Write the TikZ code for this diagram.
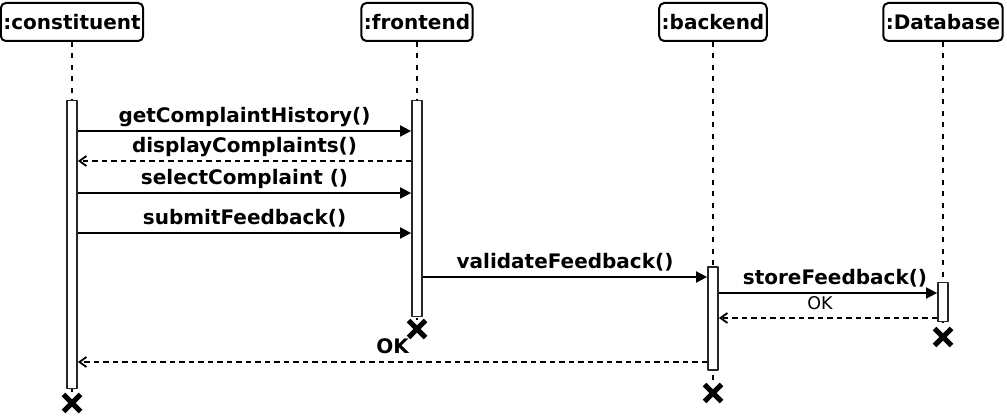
\documentclass[tikz,border=0pt]{standalone}
\usepackage{fontspec}
\setmainfont{DejaVu Sans}
\usetikzlibrary{arrows.meta,calc,shapes.misc}

\tikzset{
  head/.style={draw, line width=2pt, rounded corners=5pt, inner xsep=2.5pt,
    minimum height=38pt, font=\bfseries\fontsize{20}{24}\selectfont},
  lifeline/.style={line width=2pt, dash pattern=on 5pt off 6.5pt},
  actbar/.style={draw=black!85, line width=1.8pt, fill=white, inner sep=0pt,
    minimum width=10pt},
  killmark/.style={draw, cross out, line width=5pt, inner sep=0pt, minimum size=12pt},
  call/.style={line width=1.8pt, -{Triangle[length=11pt,width=11pt]}},
  answer/.style={line width=1.8pt, dash pattern=on 5.5pt off 4pt,
    -{Straight Barb[length=7pt,width=10pt,line width=1.8pt]}},
  msglabel/.style={midway, above=3pt, inner sep=0pt, text depth=5pt,
    font=\bfseries\fontsize{20}{24}\selectfont},
  oklabel/.style={midway, above=3pt, inner sep=0pt, text depth=5pt,
    font=\fontsize{17.5}{21}\selectfont}
}

\begin{document}
\begin{tikzpicture}[x=1pt, y=-1pt, line cap=butt, line join=round]
  \useasboundingbox (0,0) rectangle (1007,419);

  % objects
  \node[head] (con) at (72,22)  {:constituent};
  \node[head] (fe)  at (417,22) {:frontend};
  \node[head] (be)  at (713,22) {:backend};
  \node[head] (db)  at (943,22) {:Database};

  % destruction marks
  \node[killmark] (conkill) at (72,403) {};
  \node[killmark] (fekill)  at (417,329) {};
  \node[killmark] (bekill)  at (713,393) {};
  \node[killmark] (dbkill)  at (943,337) {};

  \draw[lifeline] (con.south) -- (conkill.north);
  \draw[lifeline] (fe.south)  -- (fekill.north);
  \draw[lifeline] (be.south)  -- (bekill.north);
  \draw[lifeline] (db.south)  -- (dbkill.north);

  % activations
  \node[actbar, minimum height=288pt] (conbar) at (72,244.5) {};
  \node[actbar, minimum height=216pt] (febar)  at (417,208.5) {};
  \node[actbar, minimum height=103pt] (bebar)  at (713,318.5) {};
  \node[actbar, minimum height=39pt]  (dbbar)  at (943,302) {};

  % messages
  \draw[call] (conbar.east |- 0,131) -- (febar.west |- 0,131)
    node[msglabel] {getComplaintHistory()};
  \draw[answer] (febar.west |- 0,161) -- (conbar.east |- 0,161)
    node[msglabel] {displayComplaints()};
  \draw[call] (conbar.east |- 0,193) -- (febar.west |- 0,193)
    node[msglabel] {selectComplaint ()};
  \draw[call] (conbar.east |- 0,233) -- (febar.west |- 0,233)
    node[msglabel] {submitFeedback()};
  \draw[call] (febar.east |- 0,277) -- (bebar.west |- 0,277)
    node[msglabel] {validateFeedback()};
  \draw[call] (bebar.east |- 0,293) -- (dbbar.west |- 0,293)
    node[msglabel, xshift=7pt] {storeFeedback()};
  \draw[answer] (dbbar.west |- 0,318) -- (bebar.east |- 0,318)
    node[oklabel, xshift=-8pt] {OK};
  \draw[answer] (bebar.west |- 0,362) -- (conbar.east |- 0,362)
    node[msglabel] {OK};
\end{tikzpicture}
\end{document}
